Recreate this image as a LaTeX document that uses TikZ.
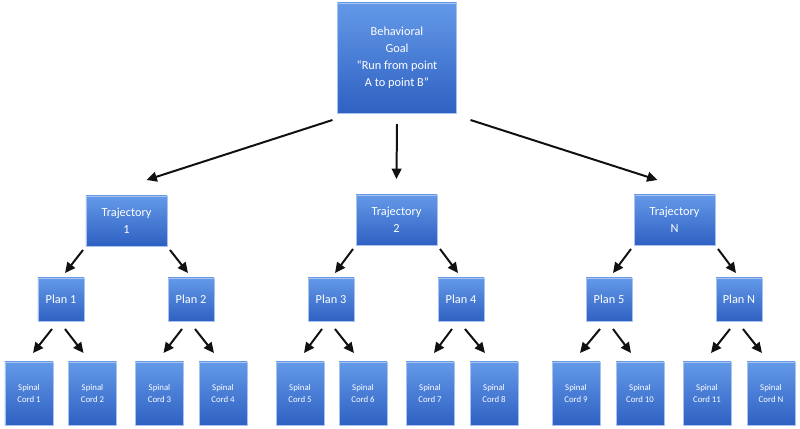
\documentclass[tikz,border=0pt]{standalone}
\usepackage{fontspec}
\setmainfont{Carlito}
\usepackage{tikz}
\usetikzlibrary{arrows.meta,positioning}
\definecolor{boxtop}{HTML}{6399E8}
\definecolor{boxbot}{HTML}{2F61C2}
\definecolor{boxline}{HTML}{A8C4EE}
\definecolor{arrowblack}{HTML}{111111}
\tikzset{
  box/.style={draw=boxline, line width=.5pt, top color=boxtop, bottom color=boxbot, text=white, align=center, inner sep=0pt, outer sep=0pt, font=\fontsize{10.5}{14.5}\selectfont},
  goalbox/.style={box, minimum width=3.57cm, minimum height=3.3cm},
  trajbox/.style={box, minimum width=2.43cm, minimum height=1.5cm},
  planbox/.style={box, minimum width=1.38cm, minimum height=1.29cm},
  cordbox/.style={box, minimum width=1.44cm, minimum height=1.89cm, font=\fontsize{7.5}{11}\selectfont},
  arr/.style={-{Triangle[length=3.1mm,width=2.9mm]}, line width=1.7pt, draw=arrowblack},
}
\begin{document}
\begin{tikzpicture}[x=0.03cm, y=-0.03cm]
        \useasboundingbox (0,0) rectangle (800,429);
        % goal
        \node[goalbox] (goal) at (397,58) {Behavioral\\Goal\\“Run from point\\A to point B”};
        % trajectories
        \node[trajbox] (t1) at (126.5,221) {Trajectory\\1};
        \node[trajbox] (t2) at (396.5,220) {Trajectory\\2};
        \node[trajbox] (t3) at (674.5,220) {Trajectory\\N};
        % plans
        \foreach \i/\x/\txt in {1/61/Plan 1, 2/191/Plan 2, 3/331/Plan 3, 4/461/Plan 4, 5/609/Plan 5, 6/739/Plan N}
          \node[planbox] (p\i) at (\x,299.5) {\txt};
        % spinal cords
        \foreach \i/\x/\txt in {1/29/1, 2/92.5/2, 3/159.5/3, 4/223/4, 5/300/5, 6/363/6, 7/430/7, 8/494/8, 9/576/9, 10/640/10, 11/707/11, 12/771/N}
          \node[cordbox] (c\i) at (\x,393.5) {Spinal\\Cord \txt};
        % arrows
        \draw[arr] ([shift={(-5,7)}]goal.south west) -- ([shift={(20,-16)}]t1.north);
        \draw[arr] ([shift={(0,11)}]goal.south) -- ([shift={(0,-16)}]t2.north);
        \draw[arr] ([shift={(14,7)}]goal.south east) -- ([shift={(-17,-15)}]t3.north);
        \foreach \tr/\l/\r in {t1/p1/p2, t2/p3/p4, t3/p5/p6}{
          \draw[arr] ([shift={(-3,4)}]\tr.south west) -- ([shift={(4,-5)}]\l.north);
          \draw[arr] ([shift={(3,4)}]\tr.south east) -- ([shift={(-3,-5)}]\r.north);
        }
        \foreach \p/\l/\r in {p1/c1/c2, p2/c3/c4, p3/c5/c6, p4/c7/c8, p5/c9/c10, p6/c11/c12}{
          \draw[arr] ([shift={(-9,8)}]\p.south) -- ([shift={(4,-9)}]\l.north);
          \draw[arr] ([shift={(4,8)}]\p.south) -- ([shift={(-9,-9)}]\r.north);
        }
      \end{tikzpicture}
\end{document}
